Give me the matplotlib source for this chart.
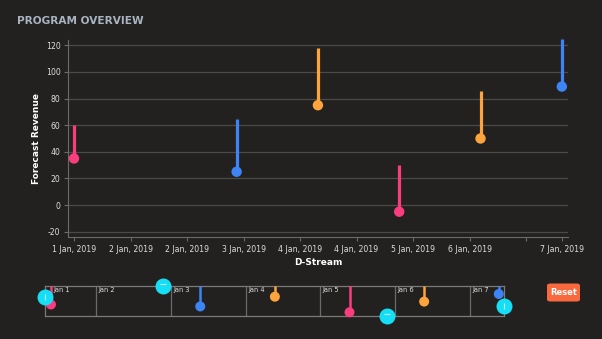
import numpy as np
import matplotlib.pyplot as plt
from matplotlib.patches import FancyBboxPatch

plt.rcParams['axes.unicode_minus'] = False

# data
dates = np.array(['2019-01-01', '2019-01-03', '2019-01-04', '2019-01-05', '2019-01-06', '2019-01-07'], dtype='datetime64[D]')
forecast = [35, 25, 75, -5, 50, 89]
upper = [60, 65, 118, 30, 86, 125]
series = ['pink', 'blue', 'orange', 'pink', 'orange', 'blue']

# main axis ticks (days after 1 Jan) and labels as shown
tick_days = [0, 0.695, 1.39, 2.085, 2.78, 3.475, 4.17, 4.865, 5.56, 6.0]
tick_labels = ['1 Jan, 2019', '2 Jan, 2019', '2 Jan, 2019', '3 Jan, 2019', '4 Jan, 2019',
               '4 Jan, 2019', '5 Jan, 2019', '6 Jan, 2019', '', '7 Jan, 2019']
y_ticks = [-20, 0, 20, 40, 60, 80, 100, 120]

# navigator ticks
nav_days = [0.61, 1.61, 2.61, 3.61, 4.61, 5.61]
nav_labels = ['Jan 2', 'Jan 3', 'Jan 4', 'Jan 5', 'Jan 6', 'Jan 7']

palette = {'pink': '#f93d7e', 'blue': '#3d84f5', 'orange': '#fda53c'}
bg = '#232120'
cyan = '#16dff5'

x = (dates - dates[0]).astype(float)
cols = [palette[s] for s in series]

fig = plt.figure(figsize=(6.02, 3.39), dpi=100, facecolor=bg)

# ---- main chart
ax = fig.add_axes([68/602, 1-237/339, 500/602, 197/339], facecolor=bg)
ax.vlines(x, forecast, upper, colors=cols, linewidth=2.3, clip_on=False, zorder=3)
ax.scatter(x, forecast, c=cols, s=42, zorder=4, clip_on=False)
ax.set_xlim(-0.074, 6.076)
ax.set_ylim(-24, 124)
ax.set_xticks(tick_days)
ax.set_xticklabels(tick_labels)
ax.set_yticks(y_ticks)
ax.grid(axis='y', color='#4a4a4a', linewidth=0.9)
ax.set_axisbelow(True)
for s in ['top', 'right']:
    ax.spines[s].set_visible(False)
for s in ['left', 'bottom']:
    ax.spines[s].set_color('#6a6a6a')
ax.tick_params(colors='#6a6a6a', labelcolor='#dddddd', labelsize=5.6, length=3, width=0.8, pad=2.5)
ax.set_ylabel('Forecast Revenue', color='white', fontsize=6.5, fontweight='bold', labelpad=3)
ax.set_xlabel('D-Stream', color='white', fontsize=6.5, fontweight='bold', labelpad=3)

fig.text(17/602, 1-21.5/339, 'PROGRAM OVERVIEW', color='#a8b4c0', fontsize=7.6,
         fontweight='bold', va='center')

# ---- navigator
nav = fig.add_axes([45/602, 1-316/339, 459/602, 30/339], facecolor=bg)
nav.set_xlim(-0.08, 6.07)
nav.set_ylim(-24, 130)
nav.vlines(x, forecast, 130, colors=cols, linewidth=1.8, zorder=3)
nav.scatter(x, forecast, c=cols, s=38, zorder=4, clip_on=False)
for d, lab in zip(nav_days, nav_labels):
    nav.axvline(d, color='#6a6a6a', linewidth=0.9, zorder=1)
    nav.text(d + 0.03, 125, lab, color='#dddddd', fontsize=4.8, va='top', ha='left')
nav.text(0.03, 125, 'Jan 1', color='#dddddd', fontsize=4.8, va='top', ha='left')
nav.set_xticks([])
nav.set_yticks([])
for s in nav.spines.values():
    s.set_color('#7a7a7a')
    s.set_linewidth(0.9)

# brush handles
handles = [(0.0, 0.633, '|'), (0.257, 1.0, '_'), (0.745, 0.0, '_'), (1.0, 0.333, '|')]
for hx, hy, m in handles:
    nav.scatter([hx], [hy], s=110, color=cyan, transform=nav.transAxes, clip_on=False, zorder=6)
    nav.scatter([hx], [hy + (0.07 if m == '_' else 0)], s=14, marker=m, color='#b8f4fb',
                linewidths=0.8, transform=nav.transAxes, clip_on=False, zorder=7)

# reset button
btn = FancyBboxPatch((547/602, 1-301.5/339), 33/602, 18/339,
                     boxstyle='round,pad=0,rounding_size=0.006',
                     transform=fig.transFigure, facecolor='#f86a3e', edgecolor='none')
fig.patches.append(btn)
fig.text(563.5/602, 1-292.5/339, 'Reset', color='white', fontsize=6, fontweight='bold',
         ha='center', va='center')

fig.savefig('out.png', dpi=100, facecolor=bg)
